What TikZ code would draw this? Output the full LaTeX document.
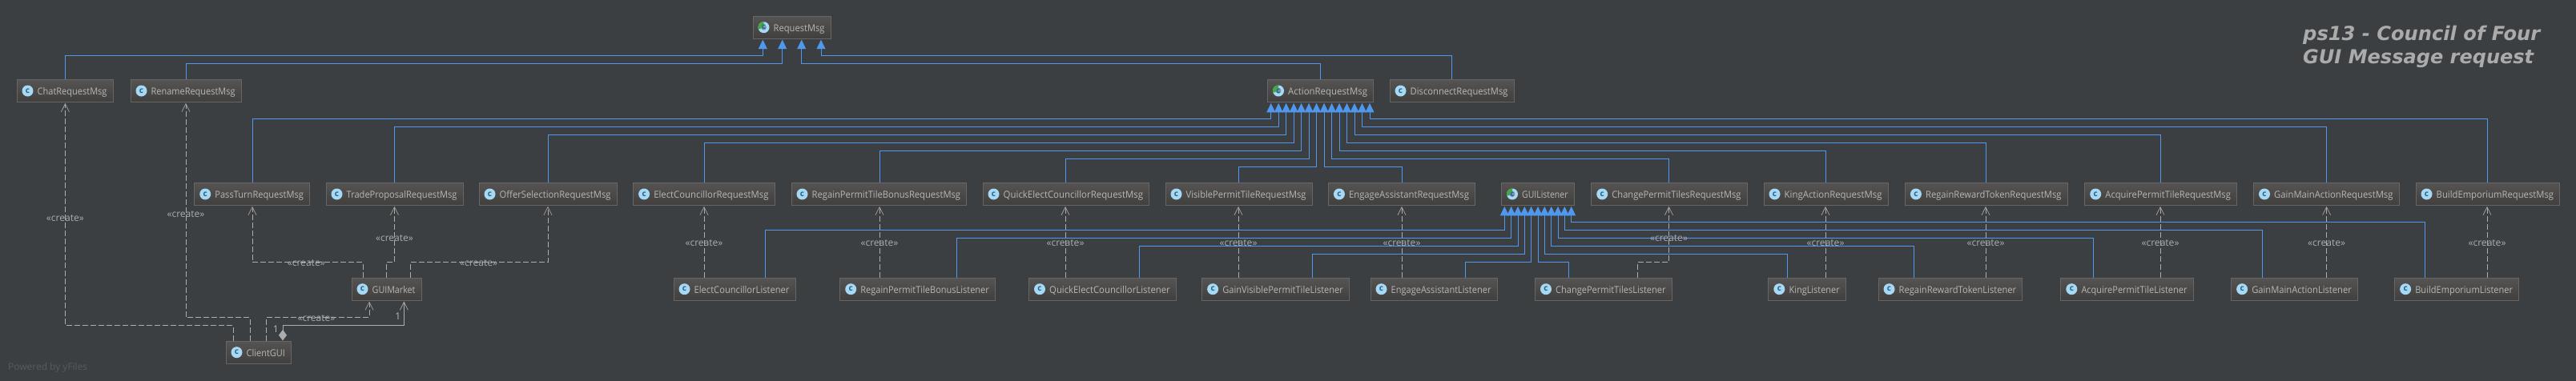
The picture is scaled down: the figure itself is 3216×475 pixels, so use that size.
\documentclass[tikz,border=0pt]{standalone}
\usepackage{graphicx}
\usepackage{fontspec}
\setmainfont{Open Sans}
\newfontfamily\titlefont[BoldItalicFont={DejaVu Sans Bold Oblique}]{DejaVu Sans}
\usetikzlibrary{arrows.meta}
\definecolor{bgc}{HTML}{3C3F41}
\definecolor{boxtop}{HTML}{565452}
\definecolor{boxbot}{HTML}{403F3E}
\definecolor{boxline}{HTML}{666666}
\definecolor{txt}{HTML}{B4B8B6}
\definecolor{blueline}{HTML}{5097EE}
\definecolor{depline}{HTML}{ADADAD}
\definecolor{lbltxt}{HTML}{A8ADB0}
\definecolor{iconc}{HTML}{A5D9F5}
\definecolor{iconl}{HTML}{2F5F7E}
\definecolor{icong}{HTML}{3FA83F}
\definecolor{titlec}{HTML}{ABABAB}
\definecolor{powered}{HTML}{585B5D}
\tikzset{
  box/.style={draw=boxline,line width=1pt,top color=boxtop,bottom color=boxbot,inner sep=0pt,
    minimum height=28.4pt,text height=10pt,text depth=0pt,text=txt,font=\fontsize{12pt}{13pt}\selectfont},
  iconbase/.style={circle,fill=iconc,minimum size=14pt,inner sep=0pt,text=iconl,font=\bfseries\fontsize{10pt}{10pt}\selectfont},
  iconabs/.style={iconbase,path picture={
     \fill[icong] (path picture bounding box.center) -- ++(90:7pt) arc[start angle=90,end angle=200,radius=7pt] -- cycle;
     \fill[iconc!70!black] (path picture bounding box.center) circle[radius=3.4pt];}},
  inhline/.style={draw=blueline,line width=1pt,-{Triangle[length=11.5pt,width=10.8pt,fill=blueline]},shorten >=0.7pt},
  depline/.style={draw=depline,line width=0.8pt,dash pattern=on 7pt off 3pt,-{Straight Barb[length=10pt,width=10pt,line width=0.7pt,color=boxline!60!white]},shorten >=0.7pt},
  lbl/.style={text=lbltxt,inner sep=0pt,font=\fontsize{12pt}{13pt}\selectfont},
  numlbl/.style={text=txt,inner sep=0pt,font=\fontsize{12pt}{13pt}\selectfont},
  titlelbl/.style={text=titlec,anchor=west,inner sep=0pt,font=\titlefont\bfseries\itshape\fontsize{24pt}{28pt}\selectfont},
  poweredlbl/.style={text=powered,anchor=west,inner sep=0pt,font=\fontsize{12pt}{13pt}\selectfont},
  lip/.style={draw=boxline,line width=1.6pt}
}
\newcommand\createlbl{\resizebox{47pt}{\height}{«create»}}
\newcommand\cls[5][iconbase]{%
  \pgfmathsetmacro\wdd{#3-#2}%
  \pgfmathsetmacro\wtx{#3-#2-33.2}%
  \node[box,minimum width=\wdd pt] (#5) at ({(#2+#3)/2},{#4+14.2}) {\makebox[\wdd pt][l]{\hspace{25.7pt}\resizebox{\wtx pt}{\height}{#5}}};
  \draw[lip] ([yshift=0.6pt]#5.south west) -- ([yshift=0.6pt]#5.south east);
  \node[#1] (#5-icon) at ([xshift=14pt]#5.west) {c};
}
\newcommand\inh[5]{\draw[inhline] (#2,0 |- #1.north) -- (#2,#3) -- (#5,#3) -- (#5,0 |- #4.south);}
\newcommand\dep[5]{\draw[depline] (#2,0 |- #1.north) -- (#2,#3) -- (#5,#3) -- (#5,0 |- #4.south);}
\newcommand\depS[3]{\draw[depline] (#2,0 |- #1.north) -- (#2,0 |- #3.south);}
\begin{document}
\begin{tikzpicture}[x=1pt,y=-1pt]
\useasboundingbox (0,0) rectangle (3216,475);
\fill[bgc] (-6,-6) rectangle (3222,481);
% top
\cls[iconabs]{940}{1037}{20}{RequestMsg}
\cls{21}{141}{99.3}{ChatRequestMsg}
\cls{163}{301}{99.3}{RenameRequestMsg}
\cls[iconabs]{1582.5}{1714.5}{99.3}{ActionRequestMsg}
\cls{1735}{1890}{99.3}{DisconnectRequestMsg}
% row 2
\cls{242.7}{386.5}{228.3}{PassTurnRequestMsg}
\cls{407}{578}{228.3}{TradeProposalRequestMsg}
\cls{598}{770}{228.3}{OfferSelectionRequestMsg}
\cls{790.6}{967}{228.3}{ElectCouncillorRequestMsg}
\cls{988}{1206.6}{228.3}{RegainPermitTileBonusRequestMsg}
\cls{1227}{1434.6}{228.3}{QuickElectCouncillorRequestMsg}
\cls{1455}{1638}{228.3}{VisiblePermitTileRequestMsg}
\cls{1658.4}{1841.5}{228.3}{EngageAssistantRequestMsg}
\cls[iconabs]{1874.5}{1965}{228.3}{GUIListener}
\cls{1986.7}{2181}{228.3}{ChangePermitTilesRequestMsg}
\cls{2202}{2357}{228.3}{KingActionRequestMsg}
\cls{2378.4}{2581}{228.3}{RegainRewardTokenRequestMsg}
\cls{2602.7}{2792.4}{228.3}{AcquirePermitTileRequestMsg}
\cls{2813.5}{2995}{228.3}{GainMainActionRequestMsg}
\cls{3016}{3195.5}{228.3}{BuildEmporiumRequestMsg}
% row 3
\cls{439}{526}{347}{GUIMarket}
\cls{841}{993}{347}{ElectCouncillorListener}
\cls{1048.7}{1242.4}{347}{RegainPermitTileBonusListener}
\cls{1284.5}{1468.3}{347}{QuickElectCouncillorListener}
\cls{1500.6}{1684.4}{347}{GainVisiblePermitTileListener}
\cls{1711}{1869}{347}{EngageAssistantListener}
\cls{1916.5}{2087}{347}{ChangePermitTilesListener}
\cls{2207.8}{2304.3}{347}{KingListener}
\cls{2345}{2524.6}{347}{RegainRewardTokenListener}
\cls{2572.8}{2738}{347}{AcquirePermitTileListener}
\cls{2785.6}{2943.3}{347}{GainMainActionListener}
\cls{2989.6}{3144.6}{347}{BuildEmporiumListener}
\cls{282}{363.4}{426}{ClientGUI}
% RequestMsg inheritance
\inh{ChatRequestMsg}{81.4}{69.5}{RequestMsg}{952.3}
\inh{RenameRequestMsg}{232}{79.5}{RequestMsg}{976.7}
\inh{ActionRequestMsg}{1648}{79.5}{RequestMsg}{1000.7}
\inh{DisconnectRequestMsg}{1812}{69.5}{RequestMsg}{1025}
% ActionRequestMsg inheritance
\inh{PassTurnRequestMsg}{315}{148.3}{ActionRequestMsg}{1586.7}
\inh{TradeProposalRequestMsg}{492.5}{158.3}{ActionRequestMsg}{1596.2}
\inh{OfferSelectionRequestMsg}{684}{168.3}{ActionRequestMsg}{1605.7}
\inh{ElectCouncillorRequestMsg}{879}{178.3}{ActionRequestMsg}{1615.2}
\inh{RegainPermitTileBonusRequestMsg}{1098}{188.3}{ActionRequestMsg}{1624.6}
\inh{QuickElectCouncillorRequestMsg}{1330}{198.3}{ActionRequestMsg}{1634.1}
\inh{VisiblePermitTileRequestMsg}{1546}{208.3}{ActionRequestMsg}{1643.6}
\inh{EngageAssistantRequestMsg}{1750}{208.3}{ActionRequestMsg}{1653.1}
\inh{ChangePermitTilesRequestMsg}{2083.5}{198.3}{ActionRequestMsg}{1662.6}
\inh{KingActionRequestMsg}{2279}{188.3}{ActionRequestMsg}{1672}
\inh{RegainRewardTokenRequestMsg}{2479}{178.3}{ActionRequestMsg}{1681.5}
\inh{AcquirePermitTileRequestMsg}{2697}{168.3}{ActionRequestMsg}{1691}
\inh{GainMainActionRequestMsg}{2904.6}{158.3}{ActionRequestMsg}{1700.5}
\inh{BuildEmporiumRequestMsg}{3105}{148.3}{ActionRequestMsg}{1710}
% GUIListener inheritance
\inh{ElectCouncillorListener}{955.5}{287.7}{GUIListener}{1878.3}
\inh{RegainPermitTileBonusListener}{1194.7}{297.7}{GUIListener}{1886.6}
\inh{QuickElectCouncillorListener}{1422}{307.7}{GUIListener}{1895}
\inh{GainVisiblePermitTileListener}{1638}{317.7}{GUIListener}{1903.3}
\inh{EngageAssistantListener}{1829.6}{327.5}{GUIListener}{1911.6}
\inh{ChangePermitTilesListener}{1958}{327.5}{GUIListener}{1920}
\inh{KingListener}{2231.6}{317.7}{GUIListener}{1928.3}
\inh{RegainRewardTokenListener}{2389.3}{307.7}{GUIListener}{1936.7}
\inh{AcquirePermitTileListener}{2613.6}{297.7}{GUIListener}{1945}
\inh{GainMainActionListener}{2824.4}{287.7}{GUIListener}{1953.3}
\inh{BuildEmporiumListener}{3027}{277.7}{GUIListener}{1961.7}
% create dependencies
\depS{ElectCouncillorListener}{879}{ElectCouncillorRequestMsg}
\depS{RegainPermitTileBonusListener}{1098}{RegainPermitTileBonusRequestMsg}
\depS{QuickElectCouncillorListener}{1330}{QuickElectCouncillorRequestMsg}
\depS{GainVisiblePermitTileListener}{1546}{VisiblePermitTileRequestMsg}
\depS{EngageAssistantListener}{1750}{EngageAssistantRequestMsg}
\dep{ChangePermitTilesListener}{2044}{327.5}{ChangePermitTilesRequestMsg}{2083.5}
\depS{KingListener}{2279}{KingActionRequestMsg}
\depS{RegainRewardTokenListener}{2479}{RegainRewardTokenRequestMsg}
\depS{AcquirePermitTileListener}{2697}{AcquirePermitTileRequestMsg}
\depS{GainMainActionListener}{2904.6}{GainMainActionRequestMsg}
\depS{BuildEmporiumListener}{3105}{BuildEmporiumRequestMsg}
\dep{GUIMarket}{453}{327.3}{PassTurnRequestMsg}{315}
\dep{GUIMarket}{482}{327.3}{TradeProposalRequestMsg}{492.5}
\dep{GUIMarket}{512}{327.3}{OfferSelectionRequestMsg}{684}
\dep{ClientGUI}{291}{406.3}{ChatRequestMsg}{81.4}
\dep{ClientGUI}{312}{396.3}{RenameRequestMsg}{232}
\dep{ClientGUI}{332.5}{396.3}{GUIMarket}{461}
\draw[draw=depline,line width=1pt,{Diamond[length=13.5pt,width=10pt,fill=depline]}-{Straight Barb[length=10pt,width=10pt,line width=0.7pt]},shorten >=0.7pt]
  (353,0 |- ClientGUI.north) -- (353,406.3) -- (504.4,406.3) -- (504.4,0 |- GUIMarket.south);
% labels
\node[lbl] (c1) at (81.4,272.3) {\createlbl};
\node[lbl] (c2) at (232,267.7) {\createlbl};
\node[lbl] (c3) at (395,397.3) {\createlbl};
\node[lbl] (c4) at (382.3,328.3) {\createlbl};
\node[lbl] (c5) at (492.5,297.3) {\createlbl};
\node[lbl] (c6) at (597.7,328.3) {\createlbl};
\node[lbl] (c7) at (879,303.3) {\createlbl};
\node[lbl] (c8) at (1098,303.3) {\createlbl};
\node[lbl] (c9) at (1330,303.3) {\createlbl};
\node[lbl] (c10) at (1546,303.3) {\createlbl};
\node[lbl] (c11) at (1750,303.3) {\createlbl};
\node[lbl] (c12) at (2083.5,297.7) {\createlbl};
\node[lbl] (c13) at (2279,303.3) {\createlbl};
\node[lbl] (c14) at (2479,303.3) {\createlbl};
\node[lbl] (c15) at (2697,303.3) {\createlbl};
\node[lbl] (c16) at (2904.6,303.3) {\createlbl};
\node[lbl] (c17) at (3105,303.3) {\createlbl};
\node[numlbl] (n1) at (344.4,411) {1};
\node[numlbl] (n2) at (496.7,395.7) {1};
\node[titlelbl] (title1) at (2875,43.5) {\resizebox{296pt}{!}{ps13 - Council of Four}};
\node[titlelbl] (title2) at (2875,73) {\resizebox{288pt}{!}{GUI Message request}};
\node[poweredlbl] (pow) at (10,459) {\resizebox{99pt}{\height}{Powered by yFiles}};
\end{tikzpicture}
\end{document}
